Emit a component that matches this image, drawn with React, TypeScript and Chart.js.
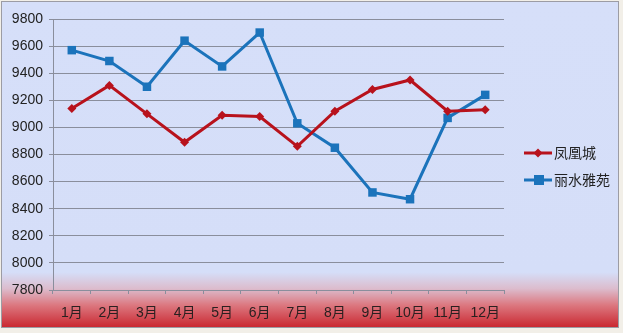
import React, { useEffect, useRef } from "react";
import { Chart, registerables } from "chart.js";

Chart.register(...registerables);

const months = ["1月", "2月", "3月", "4月", "5月", "6月", "7月", "8月", "9月", "10月", "11月", "12月"];
const fenghuangcheng = [9140, 9310, 9100, 8890, 9090, 9080, 8860, 9120, 9280, 9350, 9120, 9130];
const lishuiyayuan = [9570, 9490, 9300, 9640, 9450, 9700, 9030, 8850, 8520, 8470, 9070, 9240];
const seriesNames = ["凤凰城", "丽水雅苑"];
const yMin = 7800;
const yMax = 9800;
const yStep = 200;

const RED = "#b8121c";
const BLUE = "#1b73bb";
const FONT = "'Liberation Sans', 'Noto Sans CJK SC', sans-serif";

const bgPlugin = {
  id: "bgPlugin",
  beforeDraw(chart: any) {
    const { ctx, width, height } = chart;
    ctx.save();
    ctx.fillStyle = "#f2efe8";
    ctx.fillRect(0, 0, width, height);
    const g = ctx.createLinearGradient(0, 0, 0, 328);
    g.addColorStop(0, "#d6dff9");
    g.addColorStop(0.83, "#d5def8");
    g.addColorStop(0.88, "#dcbccd");
    g.addColorStop(0.93, "#dc7880");
    g.addColorStop(1, "#c9252e");
    ctx.fillStyle = g;
    ctx.fillRect(1, 1, 618, 327);
    ctx.strokeStyle = "#9c9ca4";
    ctx.lineWidth = 1;
    ctx.strokeRect(1.5, 1.5, 617, 326);
    ctx.restore();
  },
};

const legendPlugin = {
  id: "customLegend",
  afterDraw(chart: any) {
    const { ctx } = chart;
    const items = chart.data.datasets;
    ctx.save();
    items.forEach((ds: any, i: number) => {
      const y = 153 + i * 27;
      ctx.strokeStyle = ds.borderColor;
      ctx.lineWidth = 3;
      ctx.beginPath();
      ctx.moveTo(524, y);
      ctx.lineTo(552, y);
      ctx.stroke();
      ctx.fillStyle = ds.borderColor;
      if (ds.pointStyle === "rect") {
        ctx.fillRect(534, y - 5, 10, 10);
      } else {
        ctx.beginPath();
        ctx.moveTo(538, y - 4.5);
        ctx.lineTo(542.5, y);
        ctx.lineTo(538, y + 4.5);
        ctx.lineTo(533.5, y);
        ctx.closePath();
        ctx.fill();
      }
      ctx.fillStyle = "#222";
      ctx.font = "14px " + FONT;
      ctx.textBaseline = "middle";
      ctx.textAlign = "left";
      ctx.fillText(ds.label, 554, y + 1);
    });
    ctx.restore();
  },
};

export default function App() {
  const ref = useRef<HTMLCanvasElement>(null);
  useEffect(() => {
    if (!ref.current) return;
    const chart = new Chart(ref.current, {
      type: "line",
      data: {
        labels: months,
        datasets: [
          {
            label: seriesNames[0],
            data: fenghuangcheng,
            borderColor: RED,
            backgroundColor: RED,
            borderWidth: 3,
            pointStyle: "rectRot",
            pointRadius: 4.5,
            pointBorderWidth: 0,
            tension: 0,
          },
          {
            label: seriesNames[1],
            data: lishuiyayuan,
            borderColor: BLUE,
            backgroundColor: BLUE,
            borderWidth: 3,
            pointStyle: "rect",
            pointRadius: 6,
            pointBorderWidth: 0,
            tension: 0,
          },
        ],
      },
      options: {
        animation: false,
        responsive: false,
        maintainAspectRatio: false,
        layout: { padding: { left: 0, right: 119, top: 19, bottom: 5 } },
        plugins: { legend: { display: false }, tooltip: { enabled: false } },
        scales: {
          x: {
            type: "category",
            offset: true,
            afterFit(scale: any) {
              scale.height = 38;
            },
            grid: {
              offset: true,
              drawOnChartArea: false,
              drawTicks: true,
              tickLength: 4,
              color: "#8a8e9c",
            },
            border: { display: true, color: "#8a8e9c", width: 1 },
            ticks: {
              color: "#2a2020",
              font: { size: 14, family: FONT },
              padding: 11,
              maxRotation: 0,
              autoSkip: false,
            },
          },
          y: {
            min: yMin,
            max: yMax,
            afterFit(scale: any) {
              scale.width = 53;
            },
            grid: {
              color: "#8a8e9c",
              lineWidth: 1,
              drawTicks: true,
              tickLength: 4,
            },
            border: { display: true, color: "#8a8e9c", width: 1 },
            ticks: {
              stepSize: yStep,
              color: "#222",
              font: { size: 14, family: FONT },
              padding: 6,
              callback: (v: any) => String(v),
            },
          },
        },
      },
      plugins: [bgPlugin, legendPlugin],
    });
    return () => chart.destroy();
  }, []);
  return (
    <div style={{ position: "fixed", left: 0, top: 0, width: 623, height: 333 }}>
      <canvas ref={ref} width={623} height={333} style={{ width: 623, height: 333 }} />
    </div>
  );
}
